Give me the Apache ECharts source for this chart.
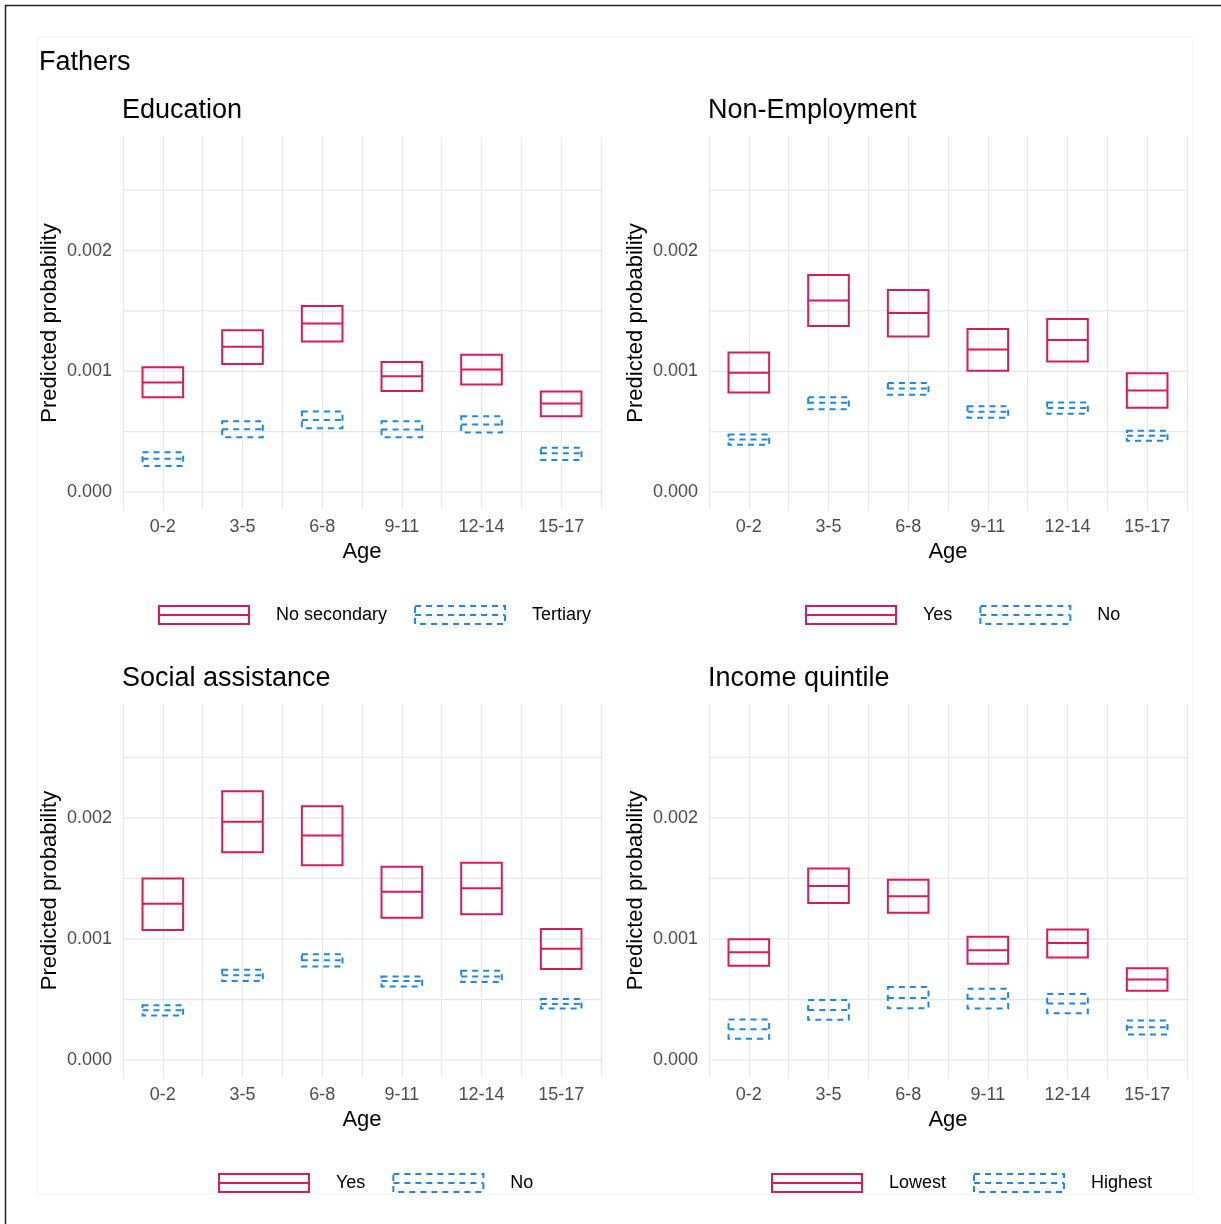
<!DOCTYPE html>
<html>
<head>
<meta charset="utf-8">
<title>Fathers – predicted probability by age</title>
<script src="https://cdn.jsdelivr.net/npm/echarts@6/dist/echarts.min.js"></script>
<style>
  html, body { margin: 0; padding: 0; background: #ffffff; }
  #chart { width: 1221px; height: 1224px; }
</style>
</head>
<body>
<div id="chart"></div>
<script>
// Age groups along the x axis
const ageGroups = ['0-2', '3-5', '6-8', '9-11', '12-14', '15-17'];

// Crossbars per age group: [lower, estimate, upper]
const educationNoSecondary = [
  [0.000786, 0.000907, 0.001033], [0.001060, 0.001203, 0.001340], [0.001247, 0.001395, 0.001540],
  [0.000836, 0.000959, 0.001077], [0.000890, 0.001014, 0.001137], [0.000627, 0.000734, 0.000833]
];
const educationTertiary = [
  [0.000215, 0.000277, 0.000329], [0.000455, 0.000521, 0.000586], [0.000529, 0.000597, 0.000668],
  [0.000455, 0.000518, 0.000586], [0.000493, 0.000559, 0.000627], [0.000266, 0.000321, 0.000367]
];
const nonEmploymentYes = [
  [0.000825, 0.000989, 0.001156], [0.001375, 0.001586, 0.001797], [0.001288, 0.001482, 0.001674],
  [0.001005, 0.001181, 0.001351], [0.001082, 0.001260, 0.001433], [0.000699, 0.000841, 0.000984]
];
const nonEmploymentNo = [
  [0.000392, 0.000436, 0.000477], [0.000685, 0.000740, 0.000786], [0.000805, 0.000858, 0.000904],
  [0.000616, 0.000666, 0.000710], [0.000649, 0.000696, 0.000742], [0.000425, 0.000466, 0.000507]
];
const socialAssistanceYes = [
  [0.001074, 0.001290, 0.001499], [0.001715, 0.001967, 0.002219], [0.001608, 0.001855, 0.002096],
  [0.001175, 0.001389, 0.001597], [0.001203, 0.001419, 0.001630], [0.000751, 0.000918, 0.001082]
];
const socialAssistanceNo = [
  [0.000367, 0.000411, 0.000452], [0.000652, 0.000701, 0.000745], [0.000773, 0.000825, 0.000874],
  [0.000608, 0.000652, 0.000690], [0.000644, 0.000690, 0.000737], [0.000425, 0.000463, 0.000504]
];
const incomeLowest = [
  [0.000778, 0.000890, 0.000997], [0.001296, 0.001438, 0.001581], [0.001216, 0.001353, 0.001488],
  [0.000795, 0.000907, 0.001019], [0.000847, 0.000967, 0.001077], [0.000573, 0.000666, 0.000759]
];
const incomeHighest = [
  [0.000175, 0.000255, 0.000334], [0.000332, 0.000414, 0.000496], [0.000427, 0.000512, 0.000603],
  [0.000425, 0.000507, 0.000589], [0.000386, 0.000466, 0.000545], [0.000211, 0.000271, 0.000326]
];

// Y axis labels and horizontal grid lines
const yTickValues = [0, 0.001, 0.002];
const yGridValues = [0, 0.0005, 0.001, 0.0015, 0.002, 0.0025];

const panels = [
  { title: 'Education',         high: ['No secondary', educationNoSecondary], low: ['Tertiary', educationTertiary] },
  { title: 'Non-Employment',    high: ['Yes', nonEmploymentYes],              low: ['No', nonEmploymentNo] },
  { title: 'Social assistance', high: ['Yes', socialAssistanceYes],           low: ['No', socialAssistanceNo] },
  { title: 'Income quintile',   high: ['Lowest', incomeLowest],               low: ['Highest', incomeHighest] }
];

const RED = '#D81B60';
const BLUE = '#1E88E5';
const GRID_COLOR = '#e8e8e8';
const FONT = '"Liberation Sans", Arial, sans-serif';
const DASH = [6, 5];
const HALF_WIDTH = 0.255;
const X_MIN = 0.5, X_MAX = 6.5;

const gridBoxes = [
  { left: 123, top: 137, width: 478, height: 372 },
  { left: 709, top: 137, width: 478, height: 372 },
  { left: 123, top: 704, width: 478, height: 373 },
  { left: 709, top: 704, width: 478, height: 373 }
];
const titlePos = [
  { left: 117, top: 92 }, { left: 703, top: 92 },
  { left: 117, top: 660 }, { left: 703, top: 660 }
];
const legendPos = [
  { left: 153, top: 600 }, { left: 800, top: 600 },
  { left: 213, top: 1168 }, { left: 766, top: 1168 }
];

function crossbarRenderer(color, dash) {
  return function (params, api) {
    const x = api.value(0);
    const topLeft = api.coord([x - HALF_WIDTH, api.value(3)]);
    const bottomRight = api.coord([x + HALF_WIDTH, api.value(1)]);
    const midY = api.coord([x, api.value(2)])[1];
    const style = { fill: 'none', stroke: color, lineWidth: 2, lineDash: dash };
    return {
      type: 'group',
      children: [
        {
          type: 'rect',
          shape: {
            x: topLeft[0], y: topLeft[1],
            width: bottomRight[0] - topLeft[0], height: bottomRight[1] - topLeft[1]
          },
          style: style
        },
        {
          type: 'line',
          shape: { x1: topLeft[0], y1: midY, x2: bottomRight[0], y2: midY },
          style: style
        }
      ]
    };
  };
}

// Horizontal grid lines spanning the full x range of a panel
function gridLineRenderer(params, api) {
  const v = api.value(0);
  const a = api.coord([X_MIN, v]);
  const b = api.coord([X_MAX, v]);
  return {
    type: 'line',
    shape: { x1: a[0], y1: a[1], x2: b[0], y2: b[1] },
    style: { stroke: GRID_COLOR, lineWidth: 1.3 }
  };
}

function toRows(values) {
  return ageGroups.map((g, i) => [i + 1, values[i][0], values[i][1], values[i][2]]);
}

const grids = [], xAxes = [], yAxes = [], series = [], legends = [];
const titles = [{
  text: 'Fathers', left: 34, top: 44,
  textStyle: { fontFamily: FONT, fontSize: 27, fontWeight: 'normal', color: '#000000' }
}];

panels.forEach((p, i) => {
  grids.push(Object.assign({ containLabel: false }, gridBoxes[i]));
  titles.push({
    text: p.title, left: titlePos[i].left, top: titlePos[i].top,
    textStyle: { fontFamily: FONT, fontSize: 27, fontWeight: 'normal', color: '#000000' }
  });
  xAxes.push({
    type: 'value', gridIndex: i, min: X_MIN, max: X_MAX, interval: 0.5,
    axisLine: { show: false }, axisTick: { show: false },
    splitLine: { show: true, lineStyle: { color: GRID_COLOR, width: 1.3 } },
    axisLabel: {
      fontFamily: FONT, fontSize: 18, color: '#4d4d4d', margin: 9,
      formatter: v => (Number.isInteger(v) && v >= 1 && v <= ageGroups.length) ? ageGroups[v - 1] : ''
    },
    name: 'Age', nameLocation: 'middle', nameGap: 32,
    nameTextStyle: { fontFamily: FONT, fontSize: 22, color: '#000000' }
  });
  yAxes.push({
    type: 'value', gridIndex: i, min: -0.00014, max: 0.00294,
    axisLine: { show: false }, axisTick: { show: false },
    splitLine: { show: false },
    axisLabel: {
      customValues: yTickValues,
      fontFamily: FONT, fontSize: 18, color: '#4d4d4d', margin: 11,
      formatter: v => v.toFixed(3)
    },
    name: 'Predicted probability', nameLocation: 'middle', nameGap: 62,
    nameTextStyle: { fontFamily: FONT, fontSize: 22, color: '#000000' }
  });
  series.push({
    type: 'custom', name: 'grid' + i, xAxisIndex: i, yAxisIndex: i,
    renderItem: gridLineRenderer,
    encode: { y: 0 },
    data: yGridValues.map(v => [v]),
    silent: true, z: 1
  });
  series.push({
    type: 'custom', name: p.high[0], xAxisIndex: i, yAxisIndex: i,
    renderItem: crossbarRenderer(RED, null),
    encode: { x: 0, y: [1, 2, 3] },
    data: toRows(p.high[1]),
    z: 3
  });
  series.push({
    type: 'custom', name: p.low[0], xAxisIndex: i, yAxisIndex: i,
    renderItem: crossbarRenderer(BLUE, DASH),
    encode: { x: 0, y: [1, 2, 3] },
    data: toRows(p.low[1]),
    z: 3
  });
  legends.push({
    left: legendPos[i].left, top: legendPos[i].top,
    orient: 'horizontal', itemWidth: 90, itemHeight: 18, itemGap: 27,
    selectedMode: false,
    textStyle: { fontFamily: FONT, fontSize: 18, color: '#000000', padding: [0, 0, 0, 22] },
    data: [
      {
        name: p.high[0], icon: 'path://M0,0H90V18H0ZM0,9H90',
        itemStyle: { color: 'rgba(0,0,0,0)', borderColor: RED, borderWidth: 2, borderType: 'solid' }
      },
      {
        name: p.low[0], icon: 'path://M0,0H90V18H0ZM0,9H90',
        itemStyle: { color: 'rgba(0,0,0,0)', borderColor: BLUE, borderWidth: 2, borderType: DASH }
      }
    ]
  });
});

const chart = echarts.init(document.getElementById('chart'), null, { renderer: 'canvas' });
chart.setOption({
  backgroundColor: '#ffffff',
  animation: false,
  textStyle: { fontFamily: FONT },
  title: titles,
  grid: grids,
  xAxis: xAxes,
  yAxis: yAxes,
  legend: legends,
  series: series,
  graphic: [
    {
      type: 'rect', silent: true, z: -10,
      shape: { x: 37, y: 37, width: 1156, height: 1157 },
      style: { fill: 'none', stroke: '#f3f3f3', lineWidth: 1 }
    },
    {
      type: 'rect', silent: true, z: 10,
      shape: { x: 5.5, y: 5.5, width: 1300, height: 1300 },
      style: { fill: 'none', stroke: '#222222', lineWidth: 1.5 }
    }
  ]
});
</script>
</body>
</html>
